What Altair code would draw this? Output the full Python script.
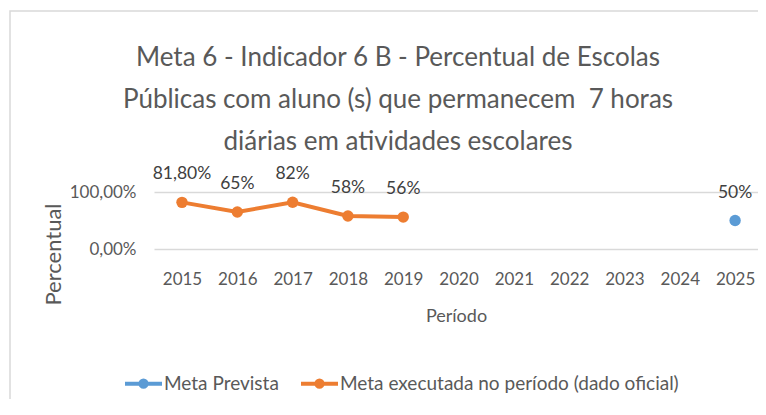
import altair as alt
import pandas as pd

years = [str(y) for y in range(2015, 2026)]
exec_years = ["2015", "2016", "2017", "2018", "2019"]
exec_values = [81.8, 65, 82, 58, 56]
exec_labels = ["81,80%", "65%", "82%", "58%", "56%"]
prev_years = ["2025"]
prev_values = [50]
prev_labels = ["50%"]
series = ["Meta Prevista", "Meta executada no período (dado oficial)"]
colors = ["#5B9BD5", "#ED7D31"]
title_lines = [
    "Meta 6 - Indicador 6 B - Percentual de Escolas",
    "Públicas com aluno (s) que permanecem\u00a0 7 horas",
    "diárias em atividades escolares",
]

df = pd.DataFrame({
    "ano": exec_years + prev_years,
    "valor": exec_values + prev_values,
    "rotulo": exec_labels + prev_labels,
    "serie": [series[1]] * len(exec_years) + [series[0]] * len(prev_years),
})

FONT = "Lato"
GRAY = "#595959"

legend = alt.Legend(
    orient="none", legendX=-31, legendY=171, direction="horizontal", title=None,
    symbolType="M-1,0 L1,0 M-0.17,0 A0.17,0.17 0 1,1 0.17,0 A0.17,0.17 0 1,1 -0.17,0",
    symbolSize=1369, symbolStrokeWidth=4, labelFontSize=19, labelColor=GRAY,
    labelFont=FONT, columnPadding=14, labelOffset=0, labelLimit=500,
)

color = alt.Color("serie:N", scale=alt.Scale(domain=series, range=colors), legend=legend)

x = alt.X("ano:O", scale=alt.Scale(type="point", domain=years, padding=0.46, align=0.55),
          axis=alt.Axis(title="Período", labelAngle=0, labelFontSize=17, labelColor=GRAY,
                        labelFont=FONT, labelPadding=22, ticks=False, domain=False,
                        titleFontSize=18, titleColor=GRAY, titleFont=FONT,
                        titleFontWeight="normal", titlePadding=20, grid=False))
y = alt.Y("valor:Q", scale=alt.Scale(domain=[0, 100]),
          axis=alt.Axis(values=[0, 100],
                        labelExpr="replace(format(datum.value/100, '.2%'), '.', ',')",
                        title="Percentual", labelFontSize=17, labelColor=GRAY, labelFont=FONT,
                        labelPadding=18, ticks=False, domain=False, grid=True,
                        gridColor="#D9D9D9", gridWidth=1.5,
                        titleFontSize=22, titleColor=GRAY, titleFont=FONT,
                        titleFontWeight="normal", titleX=-101, titleY=62,
                        titleAngle=-90, titleAlign="center", titleBaseline="middle"))

base = alt.Chart(df)
line = base.mark_line(strokeWidth=4).encode(x=x, y=y, color=color)
points = base.mark_point(filled=True, size=130, opacity=1).encode(x=x, y=y, color=color)
text = base.mark_text(dy=-28, fontSize=17.5, color="#404040", font=FONT).encode(x=x, y=y, text="rotulo:N")

frame = alt.Chart(pd.DataFrame({"a": [0]})).mark_rect(
    fillOpacity=0, stroke="#D9D9D9", strokeWidth=1.5
).encode(x=alt.value(-144), y=alt.value(-181), x2=alt.value(900), y2=alt.value(500))

chart = alt.layer(frame, line, points, text).properties(
    width=604, height=57,
    title=alt.TitleParams(text=title_lines, fontSize=26, font=FONT, color=GRAY,
                          fontWeight="normal", anchor="middle", dx=-58, offset=0, dy=145,
                          lineHeight=42),
    autosize=alt.AutoSizeParams(type="none"),
    padding={"left": 146, "top": 184, "right": 0, "bottom": 150},
).configure_view(stroke=None)

chart.save("out.html", embed_options={"renderer": "svg", "actions": False})
